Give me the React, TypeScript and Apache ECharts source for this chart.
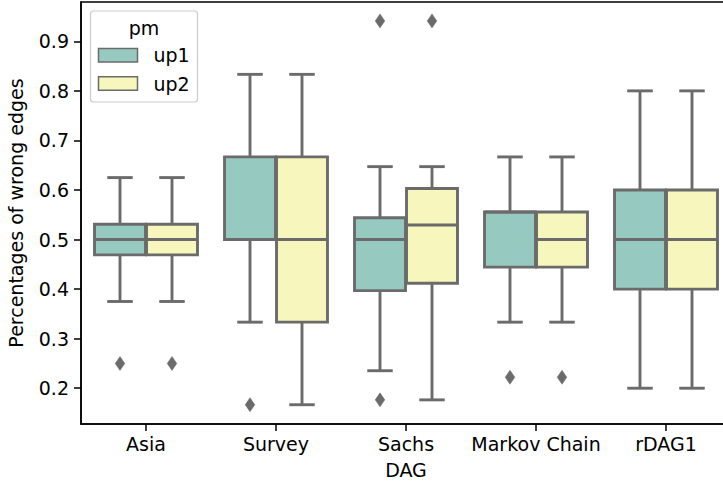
import React, { useEffect, useRef } from "react";
import * as echarts from "echarts";

const categories = ["Asia", "Survey", "Sachs", "Markov Chain", "rDAG1"];
const hueNames = ["up1", "up2"];

const up1Low = [0.375, 0.3333, 0.2353, 0.3333, 0.2];
const up1Q1 = [0.469, 0.5, 0.397, 0.4444, 0.4];
const up1Median = [0.5, 0.5, 0.5, 0.5556, 0.5];
const up1Q3 = [0.531, 0.6667, 0.5441, 0.5556, 0.6];
const up1High = [0.625, 0.8333, 0.6471, 0.6667, 0.8];

const up2Low = [0.375, 0.1667, 0.1765, 0.3333, 0.2];
const up2Q1 = [0.469, 0.3333, 0.4118, 0.4444, 0.4];
const up2Median = [0.5, 0.5, 0.5294, 0.5, 0.5];
const up2Q3 = [0.531, 0.6667, 0.6029, 0.5556, 0.6];
const up2High = [0.625, 0.8333, 0.6471, 0.6667, 0.8];

// [category index, value]
const up1Outliers = [[0, 0.25], [1, 0.1667], [2, 0.9412], [2, 0.1765], [3, 0.2222]];
const up2Outliers = [[0, 0.25], [2, 0.9412], [3, 0.2222]];

const yTicks = [0.2, 0.3, 0.4, 0.5, 0.6, 0.7, 0.8, 0.9];

const COLORS = ["#96cac1", "#f6f6bd"];
const GRAY = "#6b6b6b";
const FONT = "DejaVu Sans";
const FS = 19;

export default function App() {
  const ref = useRef<HTMLDivElement>(null);
  useEffect(() => {
    if (!ref.current) return;
    const chart = echarts.init(ref.current, undefined, { renderer: "svg" });

    const boxData: number[][] = [];
    categories.forEach((_, i) => {
      boxData.push([i, 0, up1Low[i], up1Q1[i], up1Median[i], up1Q3[i], up1High[i]]);
      boxData.push([i, 1, up2Low[i], up2Q1[i], up2Median[i], up2Q3[i], up2High[i]]);
    });
    const outData: number[][] = [];
    up1Outliers.forEach((o) => outData.push([o[0], 0, o[1]]));
    up2Outliers.forEach((o) => outData.push([o[0], 1, o[1]]));

    const renderBox = (params: any, api: any) => {
      const cat = api.value(0);
      const hue = api.value(1);
      const band = api.size([1, 0])[0];
      const cx = api.coord([cat, 0.5])[0] + (hue === 0 ? -0.2 : 0.2) * band;
      const half = 0.196 * band;
      const capHalf = half / 2;
      const yLo = api.coord([cat, api.value(2)])[1];
      const yQ1 = api.coord([cat, api.value(3)])[1];
      const yMed = api.coord([cat, api.value(4)])[1];
      const yQ3 = api.coord([cat, api.value(5)])[1];
      const yHi = api.coord([cat, api.value(6)])[1];
      const lineStyle = { stroke: GRAY, lineWidth: 2.9, fill: null };
      return {
        type: "group",
        children: [
          { type: "line", shape: { x1: cx, y1: yQ3, x2: cx, y2: yHi }, style: lineStyle },
          { type: "line", shape: { x1: cx, y1: yQ1, x2: cx, y2: yLo }, style: lineStyle },
          { type: "line", shape: { x1: cx - capHalf, y1: yHi, x2: cx + capHalf, y2: yHi }, style: lineStyle },
          { type: "line", shape: { x1: cx - capHalf, y1: yLo, x2: cx + capHalf, y2: yLo }, style: lineStyle },
          {
            type: "rect",
            shape: { x: cx - half, y: yQ3, width: 2 * half, height: yQ1 - yQ3 },
            style: { fill: COLORS[hue], stroke: GRAY, lineWidth: 2.9 },
          },
          { type: "line", shape: { x1: cx - half, y1: yMed, x2: cx + half, y2: yMed }, style: lineStyle },
        ],
      };
    };

    const renderOutlier = (params: any, api: any) => {
      const cat = api.value(0);
      const hue = api.value(1);
      const band = api.size([1, 0])[0];
      const cx = api.coord([cat, 0.5])[0] + (hue === 0 ? -0.2 : 0.2) * band;
      const cy = api.coord([cat, api.value(2)])[1];
      const w = 4.8;
      const h = 7;
      return {
        type: "polygon",
        shape: { points: [[cx, cy - h], [cx + w, cy], [cx, cy + h], [cx - w, cy]] },
        style: { fill: GRAY, stroke: GRAY, lineWidth: 0.5 },
      };
    };

    const legendX = 90.5;
    const legendY = 11;
    const graphic: any[] = [
      {
        type: "rect",
        shape: { x: legendX, y: legendY, width: 107, height: 91, r: 3 },
        style: { fill: "rgba(255,255,255,0.85)", stroke: "#cccccc", lineWidth: 1.2 },
        z: 100,
      },
      {
        type: "text",
        x: 144,
        y: 27.5,
        style: { text: "pm", fontSize: FS, fontFamily: FONT, fill: "#000", align: "center", verticalAlign: "middle" },
        z: 101,
      },
    ];
    hueNames.forEach((name, i) => {
      const py = 48.5 + i * 28.3;
      graphic.push({
        type: "rect",
        shape: { x: 98.5, y: py, width: 39, height: 13.5 },
        style: { fill: COLORS[i], stroke: GRAY, lineWidth: 1.5 },
        z: 101,
      });
      graphic.push({
        type: "text",
        x: 153.5,
        y: py + 6.8,
        style: { text: name, fontSize: FS, fontFamily: FONT, fill: "#000", align: "left", verticalAlign: "middle" },
        z: 101,
      });
    });

    chart.setOption({
      animation: false,
      textStyle: { fontFamily: FONT },
      grid: {
        left: 81,
        top: 2,
        width: 650,
        height: 422,
        containLabel: false,
        outerBoundsMode: "none",
        show: true,
        borderColor: "#000",
        borderWidth: 1.5,
        backgroundColor: "transparent",
      },
      xAxis: {
        type: "category",
        data: categories,
        boundaryGap: true,
        name: "DAG",
        nameLocation: "middle",
        nameGap: 36,
        nameTextStyle: { fontSize: FS, fontFamily: FONT, color: "#000" },
        axisLine: { show: true, lineStyle: { color: "#000", width: 1.5 } },
        axisTick: { show: true, alignWithLabel: true, length: 7, lineStyle: { color: "#000", width: 1.5 } },
        axisLabel: { fontSize: FS, fontFamily: FONT, color: "#000", margin: 10, interval: 0 },
        splitLine: { show: false },
      },
      yAxis: {
        type: "value",
        min: 0.1278,
        max: 0.9793,
        name: "Percentages of wrong edges",
        nameLocation: "middle",
        nameGap: 56,
        nameRotate: 90,
        nameTextStyle: { fontSize: FS, fontFamily: FONT, color: "#000" },
        axisLine: { show: true, lineStyle: { color: "#000", width: 1.5 } },
        axisTick: { show: true, length: 7, customValues: yTicks, lineStyle: { color: "#000", width: 1.5 } },
        axisLabel: {
          fontSize: FS,
          fontFamily: FONT,
          color: "#000",
          margin: 12,
          customValues: yTicks,
          formatter: (v: number) => v.toFixed(1),
        },
        splitLine: { show: false },
      },
      series: [
        {
          type: "custom",
          renderItem: renderBox,
          data: boxData,
          encode: { x: 0, y: [2, 3, 4, 5, 6] },
          z: 2,
        },
        {
          type: "custom",
          renderItem: renderOutlier,
          data: outData,
          encode: { x: 0, y: 2 },
          z: 3,
        },
      ],
      graphic,
    });
    return () => chart.dispose();
  }, []);
  return <div ref={ref} style={{ width: 723, height: 481, position: "absolute", left: 0, top: 0 }} />;
}
